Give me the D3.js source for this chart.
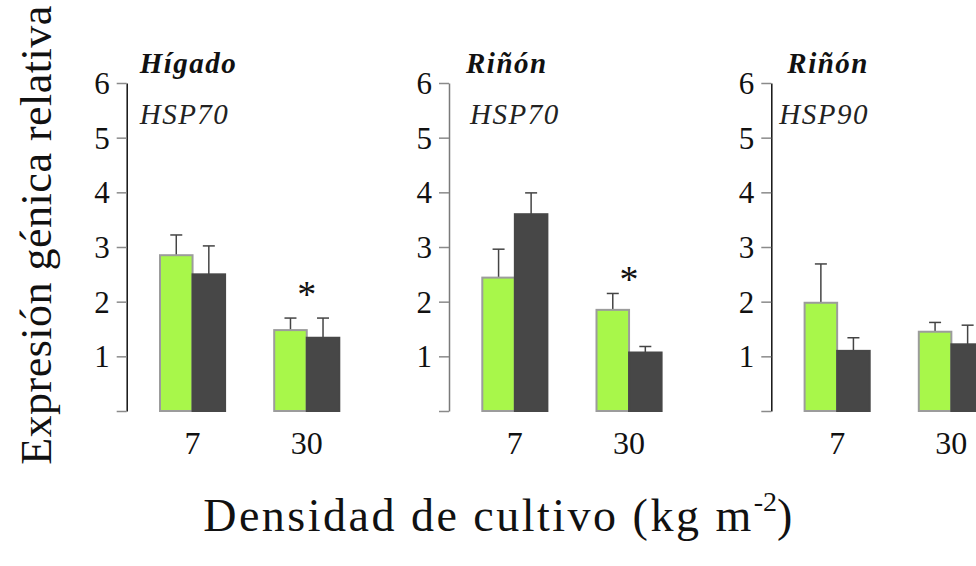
<!DOCTYPE html>
<html>
<head>
<meta charset="utf-8">
<script src="https://cdn.jsdelivr.net/npm/d3@7"></script>
<style>
  html, body { margin: 0; padding: 0; background: #fff; }
  svg { display: block; font-family: "Liberation Serif", "DejaVu Serif", serif; }
</style>
</head>
<body>
<svg id="chart" width="976" height="566"></svg>
<script>
// Relative gene expression by stocking density, two groups per density
const tissues = ["Hígado", "Riñón", "Riñón"];
const genes = ["HSP70", "HSP70", "HSP90"];
const densities = ["7", "30"];
const groups = ["control", "tratamiento"];

// mean values per panel, per density
const greenMeans = [[2.85, 1.48], [2.44, 1.85], [1.98, 1.45]];
const greenErrors = [[0.37, 0.22], [0.52, 0.30], [0.71, 0.17]];
const darkMeans = [[2.50, 1.34], [3.60, 1.07], [1.10, 1.22]];
const darkErrors = [[0.52, 0.36], [0.39, 0.11], [0.24, 0.35]];
// level of the significance star (null = none)
const starLevels = [[null, 2.25], [null, 2.52], [null, null]];

const yTicks = [0, 1, 2, 3, 4, 5, 6];

const svg = d3.select("#chart");
const FONT = "Liberation Serif, serif";

const colors = { control: "#a8f74a", tratamiento: "#474747" };
const strokes = { control: "#9c9c9c", tratamiento: "#474747" };

// horizontal offsets of the panel titles from each panel's axis
const titleDx = [13, 17, 16];
const geneDx = [13, 21, 8];

const panelX = d3.scaleBand().domain(d3.range(3)).range([126.7, 126.7 + 3 * 322.3]);
const y = d3.scaleLinear().domain([0, 6]).range([411, 83]);

tissues.forEach((tissue, p) => {
  const x0 = panelX(p);
  const g = svg.append("g");

  const xd = d3.scaleBand().domain(densities)
    .range([x0 + 33.3, x0 + 212.6]).paddingInner(0.43).paddingOuter(0);
  const xs = d3.scaleBand().domain(groups).range([0, xd.bandwidth()]);

  // y axis
  const axis = d3.axisLeft(y).tickValues(yTicks)
    .tickFormat(d => d === 0 ? "" : d)
    .tickSize(10).tickSizeOuter(0).tickPadding(7);
  const ag = g.append("g").attr("transform", `translate(${x0},0)`).call(axis);
  ag.attr("font-family", FONT);
  ag.select(".domain").attr("stroke", p === 1 ? "#7a7a7a" : "#111").attr("stroke-width", 1.5);
  ag.selectAll(".tick line").attr("stroke", "#8a8a8a").attr("stroke-width", 1.5);
  ag.selectAll(".tick text").attr("font-size", 31).attr("fill", "#111")
    .attr("font-family", FONT).attr("dy", "0.34em");

  // bars
  densities.forEach((dens, i) => {
    const rows = [
      { key: "control", v: greenMeans[p][i], e: greenErrors[p][i] },
      { key: "tratamiento", v: darkMeans[p][i], e: darkErrors[p][i] }
    ];
    rows.forEach(r => {
      const bx = xd(dens) + xs(r.key);
      const cx = bx + xs.bandwidth() / 2;
      // error bar (upper only)
      g.append("line")
        .attr("x1", cx).attr("x2", cx)
        .attr("y1", y(r.v)).attr("y2", y(r.v + r.e))
        .attr("stroke", "#444").attr("stroke-width", 1.5);
      g.append("line")
        .attr("x1", cx - 6).attr("x2", cx + 6)
        .attr("y1", y(r.v + r.e)).attr("y2", y(r.v + r.e))
        .attr("stroke", "#444").attr("stroke-width", 1.5);
      g.append("rect")
        .attr("x", bx).attr("y", y(r.v))
        .attr("width", xs.bandwidth()).attr("height", y(0) - y(r.v))
        .attr("fill", colors[r.key])
        .attr("stroke", strokes[r.key]).attr("stroke-width", 2);
    });

    // x tick label
    g.append("text")
      .attr("x", xd(dens) + xd.bandwidth() / 2).attr("y", 454)
      .attr("text-anchor", "middle").attr("font-size", 32).attr("fill", "#111")
      .text(dens);

    // significance star
    const s = starLevels[p][i];
    if (s !== null) {
      g.append("text")
        .attr("x", xd(dens) + xd.bandwidth() / 2).attr("y", y(s) + 19)
        .attr("text-anchor", "middle").attr("font-size", 38).attr("fill", "#111")
        .text("*");
    }
  });

  // panel titles
  g.append("text")
    .attr("x", x0 + titleDx[p]).attr("y", 73)
    .attr("font-size", 29).attr("font-weight", "bold").attr("font-style", "italic")
    .attr("letter-spacing", 1.5)
    .attr("fill", "#111").text(tissue);
  g.append("text")
    .attr("x", x0 + geneDx[p]).attr("y", 124)
    .attr("font-size", 29).attr("font-style", "italic")
    .attr("letter-spacing", 1.5)
    .attr("fill", "#222").text(genes[p]);
});

// axis titles
svg.append("text")
  .attr("transform", "translate(51,235) rotate(-90)")
  .attr("text-anchor", "middle").attr("font-size", 44).attr("fill", "#111")
  .attr("letter-spacing", 0.5)
  .text("Expresión génica relativa");

const xt = svg.append("text")
  .attr("x", 499).attr("y", 531)
  .attr("text-anchor", "middle").attr("font-size", 46).attr("fill", "#111")
  .attr("letter-spacing", 2.5);
xt.append("tspan").text("Densidad de cultivo (kg m");
xt.append("tspan").attr("font-size", 28).attr("dy", -20).attr("letter-spacing", 0).text("-2");
xt.append("tspan").attr("dy", 20).text(")");
</script>
</body>
</html>
